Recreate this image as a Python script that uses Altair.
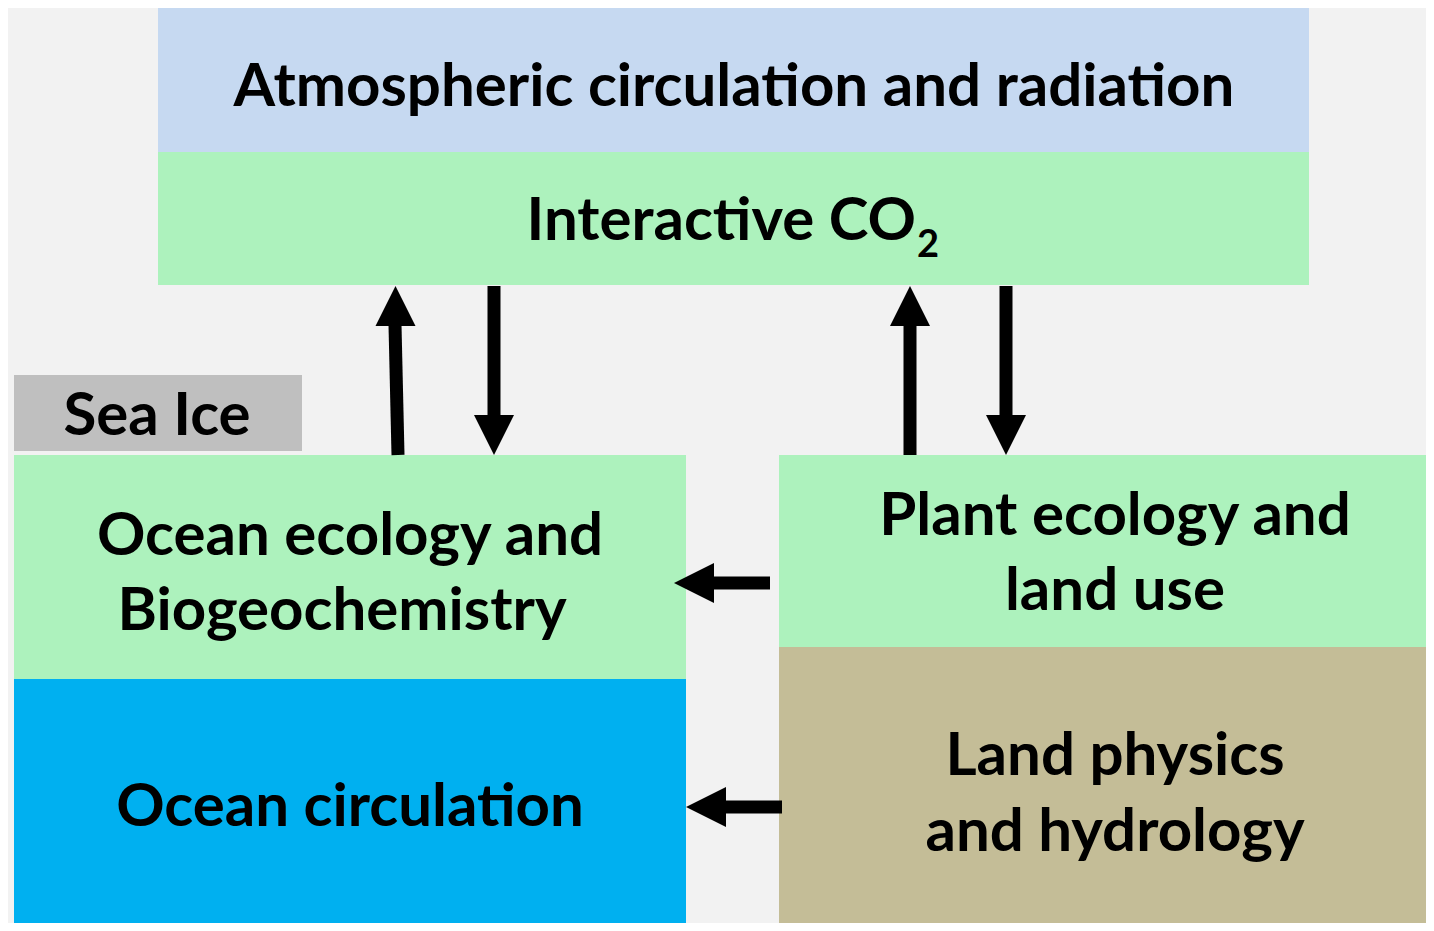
import altair as alt
import pandas as pd

# Boxes (reference pixel coordinates)
box_names = ["atmos", "co2", "seaice", "ocean_eco", "ocean_circ", "plant", "land"]
box_x0 = [158, 158, 14, 14, 14, 779, 779]
box_x1 = [1309, 1309, 302, 686, 686, 1434, 1434]
box_y0 = [8, 152, 375, 455, 679, 455, 647]
box_y1 = [152, 285, 451, 679, 931, 647, 931]
box_colors = ["#c6d9f1", "#adf2bd", "#bfbfbf", "#adf2bd", "#00b0f0", "#adf2bd", "#c4bd97"]

# Text labels
text_labels = ["Atmospheric circulation and radiation", "Sea Ice",
               "Ocean ecology and", "Biogeochemistry", "Ocean circulation",
               "Plant ecology and", "land use", "Land physics", "and hydrology"]
text_x = [734, 157, 350, 342, 350, 1115, 1115, 1115, 1115]
text_y = [106, 435, 555, 630, 826, 535, 610, 775, 851]

co2_main = "Interactive CO"
co2_sub = "2"

# Arrow shafts
shaft_x0 = [398, 494, 910, 1006, 770, 782]
shaft_y0 = [455, 286, 455, 286, 583, 807]
shaft_x1 = [395, 494, 910, 1006, 712, 725]
shaft_y1 = [325, 416, 325, 416, 583, 807]

# Arrow heads
head_up_x = [395.5, 910]
head_up_y = [306, 306]
head_down_x = [494, 1006]
head_down_y = [435, 435]
head_left_x = [694, 706]
head_left_y = [583, 807]

FONT = "Lato"
FS = 60

xs = alt.Scale(domain=[8, 1426], nice=False, zero=False)
ys = alt.Scale(domain=[8, 923], nice=False, zero=False, reverse=True)

boxes = pd.DataFrame({"name": box_names, "x0": box_x0, "x1": box_x1,
                      "y0": box_y0, "y1": box_y1, "color": box_colors})
texts = pd.DataFrame({"label": text_labels, "x": text_x, "y": text_y})
co2 = pd.DataFrame({"label": [co2_main], "x": [916], "y": [240]})
co2s = pd.DataFrame({"label": [co2_sub], "x": [917], "y": [257]})
shafts = pd.DataFrame({"x0": shaft_x0, "y0": shaft_y0, "x1": shaft_x1, "y1": shaft_y1})
hu = pd.DataFrame({"x": head_up_x, "y": head_up_y})
hd = pd.DataFrame({"x": head_down_x, "y": head_down_y})
hl = pd.DataFrame({"x": head_left_x, "y": head_left_y})

rects = alt.Chart(boxes).mark_rect(clip=True).encode(
    x=alt.X("x0:Q", scale=xs, axis=None),
    x2="x1:Q",
    y=alt.Y("y0:Q", scale=ys, axis=None),
    y2="y1:Q",
    color=alt.Color("color:N", scale=None),
)

labels = alt.Chart(texts).mark_text(
    font=FONT, fontSize=FS, fontWeight="bold", color="black",
    align="center", baseline="alphabetic"
).encode(
    x=alt.X("x:Q", scale=xs, axis=None),
    y=alt.Y("y:Q", scale=ys, axis=None),
    text="label:N",
)

co2_text = alt.Chart(co2).mark_text(
    font=FONT, fontSize=FS, fontWeight="bold", color="black",
    align="right", baseline="alphabetic"
).encode(
    x=alt.X("x:Q", scale=xs, axis=None),
    y=alt.Y("y:Q", scale=ys, axis=None),
    text="label:N",
)

co2_sub_text = alt.Chart(co2s).mark_text(
    font=FONT, fontSize=38, fontWeight="bold", color="black",
    align="left", baseline="alphabetic"
).encode(
    x=alt.X("x:Q", scale=xs, axis=None),
    y=alt.Y("y:Q", scale=ys, axis=None),
    text="label:N",
)

rules = alt.Chart(shafts).mark_rule(color="black", strokeWidth=13, strokeCap="butt").encode(
    x=alt.X("x0:Q", scale=xs, axis=None),
    x2="x1:Q",
    y=alt.Y("y0:Q", scale=ys, axis=None),
    y2="y1:Q",
)

def head(df, path):
    return alt.Chart(df).mark_point(
        shape=path, size=1600, filled=True, color="black", opacity=1, strokeWidth=0
    ).encode(
        x=alt.X("x:Q", scale=xs, axis=None),
        y=alt.Y("y:Q", scale=ys, axis=None),
    )

heads_up = head(hu, "M0,-1L1,1L-1,1Z")
heads_down = head(hd, "M0,1L1,-1L-1,-1Z")
heads_left = head(hl, "M-1,0L1,-1L1,1Z")

chart = alt.layer(
    rects, rules, heads_up, heads_down, heads_left, labels, co2_text, co2_sub_text
).properties(
    width=1418, height=915, padding=0, autosize="none", background="#f2f2f2"
).configure_view(stroke=None, fill="#f2f2f2")

chart.save("out.html", embed_options={"renderer": "svg", "actions": False})
